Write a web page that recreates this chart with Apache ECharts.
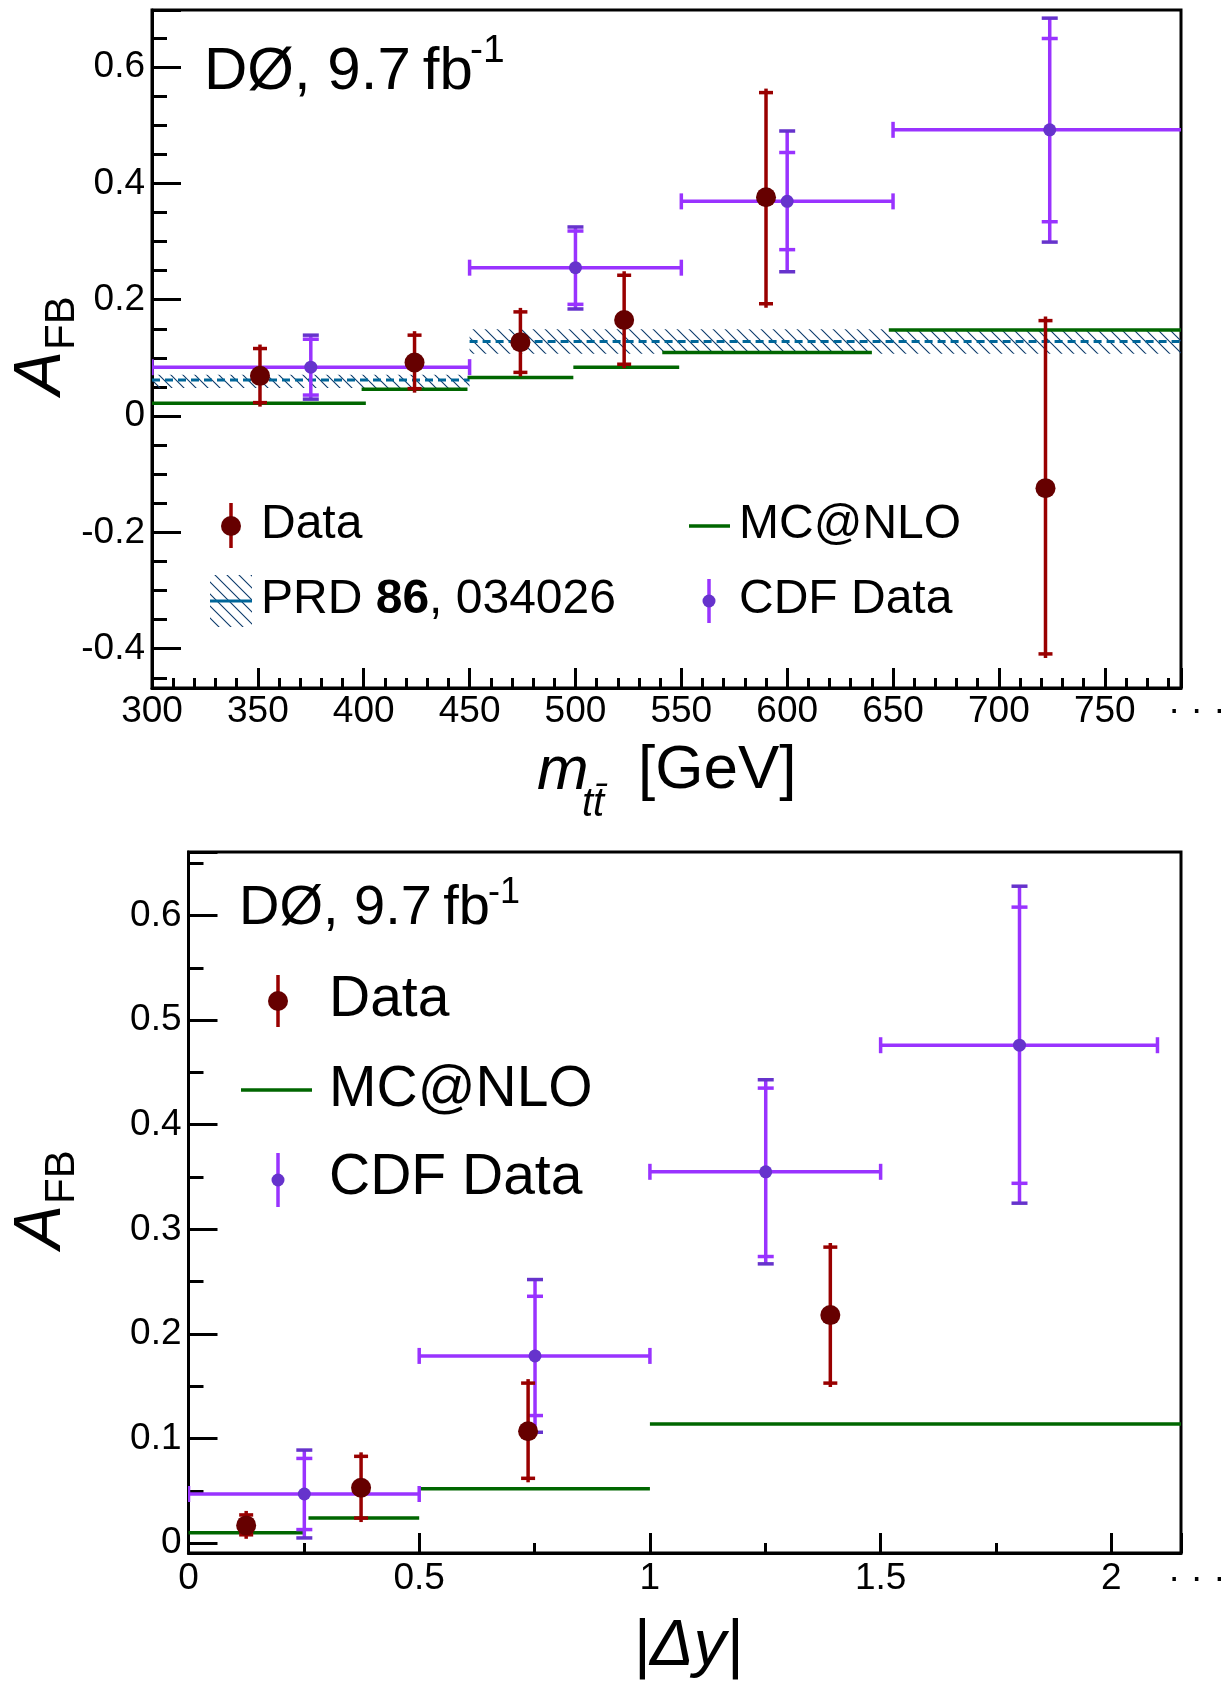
<!DOCTYPE html>
<html>
<head>
<meta charset="utf-8">
<script src="https://cdn.jsdelivr.net/npm/echarts@6/dist/echarts.min.js"></script>
<style>
html, body { margin: 0; padding: 0; background: #fff; }
#chart { width: 1221px; height: 1689px; }
</style>
</head>
<body>
<div id="chart"></div>
<script>
// ---- top panel: A_FB vs m_tt ----
const mttD0X = [351, 424, 474, 523, 590, 722];
const mttD0Y = [0.069, 0.092, 0.127, 0.165, 0.376, -0.124];
const mttD0Lo = [0.023, 0.047, 0.075, 0.089, 0.193, -0.409];
const mttD0Hi = [0.116, 0.139, 0.179, 0.242, 0.556, 0.164];

const mttCdfX = [375, 500, 600, 724];
const mttCdfBinLo = [300, 450, 550, 650];
const mttCdfBinHi = [450, 550, 650, 800];
const mttCdfY = [0.084, 0.255, 0.369, 0.492];
const mttCdfStatLo = [0.036, 0.192, 0.286, 0.334];
const mttCdfStatHi = [0.132, 0.318, 0.453, 0.649];
const mttCdfTotLo = [0.029, 0.184, 0.248, 0.299];
const mttCdfTotHi = [0.139, 0.325, 0.490, 0.684];

const mttMcLo = [300, 399, 449, 499, 541, 648];
const mttMcHi = [401, 449, 499, 549, 640, 786];
const mttMcY = [0.022, 0.046, 0.066, 0.084, 0.109, 0.148];

const mttPrdLo = [300, 450];
const mttPrdHi = [450, 786];
const mttPrdY = [0.062, 0.128];
const mttPrdBandLo = [0.048, 0.107];
const mttPrdBandHi = [0.071, 0.149];

// ---- bottom panel: A_FB vs |dy| ----
const dyD0X = [0.125, 0.374, 0.736, 1.391];
const dyD0Y = [0.017, 0.053, 0.107, 0.218];
const dyD0Lo = [0.008, 0.024, 0.062, 0.153];
const dyD0Hi = [0.027, 0.083, 0.153, 0.283];

const dyCdfX = [0.251, 0.751, 1.251, 1.801];
const dyCdfBinLo = [0, 0.5, 1.0, 1.5];
const dyCdfBinHi = [0.5, 1.0, 1.5, 2.1];
const dyCdfY = [0.047, 0.179, 0.355, 0.476];
const dyCdfStatLo = [0.013, 0.122, 0.274, 0.344];
const dyCdfStatHi = [0.081, 0.236, 0.435, 0.608];
const dyCdfTotLo = [0.005, 0.106, 0.267, 0.325];
const dyCdfTotHi = [0.089, 0.252, 0.443, 0.628];

const dyMcLo = [0, 0.26, 0.5, 1.0];
const dyMcHi = [0.25, 0.5, 1.0, 2.151];
const dyMcY = [0.010, 0.024, 0.052, 0.114];

const FONT = '"Liberation Sans", Arial, sans-serif';
const D0_MARK = '#660000', D0_BAR = '#990000';
const CDF_BAR = '#9933ff', CDF_MARK = '#6633cc';
const MC_COL = '#006600', PRD_COL = '#006699';

// hatch pattern for the PRD band
const hatch = document.createElement('canvas');
hatch.width = 12; hatch.height = 12;
const hc = hatch.getContext('2d');
hc.strokeStyle = '#0b3a6a';
hc.lineWidth = 1.1;
hc.beginPath();
hc.moveTo(-1, -1); hc.lineTo(13, 13);
hc.moveTo(-1, 11); hc.lineTo(1, 13);
hc.moveTo(11, -1); hc.lineTo(13, 1);
hc.stroke();
const hatchFill = { image: hatch, repeat: 'repeat' };

function zip() {
  const cols = Array.prototype.slice.call(arguments);
  return cols[0].map((_, i) => cols.map(c => c[i]));
}

function hline(x1, x2, y, color, w) {
  return { type: 'line', shape: { x1: x1, y1: y, x2: x2, y2: y }, style: { stroke: color, lineWidth: w } };
}
function vline(x, y1, y2, color, w) {
  return { type: 'line', shape: { x1: x, y1: y1, x2: x, y2: y2 }, style: { stroke: color, lineWidth: w } };
}

function renderD0(params, api) {
  const x = api.value(0);
  const p = api.coord([x, api.value(1)]);
  const yLo = api.coord([x, api.value(2)])[1];
  const yHi = api.coord([x, api.value(3)])[1];
  return { type: 'group', children: [
    vline(p[0], yHi - 4, yLo + 4, D0_BAR, 3.5),
    hline(p[0] - 7, p[0] + 7, yHi, D0_BAR, 3.5),
    hline(p[0] - 7, p[0] + 7, yLo, D0_BAR, 3.5),
    { type: 'circle', shape: { cx: p[0], cy: p[1], r: 10 }, style: { fill: D0_MARK } }
  ] };
}

function renderCdf(params, api) {
  const x = api.value(0), y = api.value(1);
  const p = api.coord([x, y]);
  const xl = api.coord([api.value(2), y])[0];
  const xr = api.coord([api.value(3), y])[0];
  const ys = i => api.coord([x, api.value(i)])[1];
  const sLo = ys(4), sHi = ys(5), tLo = ys(6), tHi = ys(7);
  const w = 3.5;
  return { type: 'group', children: [
    hline(xl, xr, p[1], CDF_BAR, w),
    vline(xl, p[1] - 8, p[1] + 8, CDF_BAR, w),
    vline(xr, p[1] - 8, p[1] + 8, CDF_BAR, w),
    vline(p[0], tHi, tLo, CDF_BAR, w),
    hline(p[0] - 8, p[0] + 8, sHi, CDF_BAR, w),
    hline(p[0] - 8, p[0] + 8, sLo, CDF_BAR, w),
    hline(p[0] - 8, p[0] + 8, tHi, CDF_MARK, w),
    hline(p[0] - 8, p[0] + 8, tLo, CDF_MARK, w),
    { type: 'circle', shape: { cx: p[0], cy: p[1], r: 6.5 }, style: { fill: CDF_MARK } }
  ] };
}

function renderMc(params, api) {
  const y = api.value(2);
  const a = api.coord([api.value(0), y]);
  const b = api.coord([api.value(1), y]);
  return hline(a[0], b[0], a[1], MC_COL, 3.5);
}

function renderPrd(params, api) {
  const a = api.coord([api.value(0), api.value(4)]);
  const b = api.coord([api.value(1), api.value(3)]);
  const c = api.coord([api.value(0), api.value(2)]);
  return { type: 'group', children: [
    { type: 'rect', shape: { x: a[0], y: a[1], width: b[0] - a[0], height: b[1] - a[1] }, style: { fill: hatchFill } },
    { type: 'line', shape: { x1: a[0], y1: c[1], x2: b[0], y2: c[1] }, style: { stroke: PRD_COL, lineWidth: 3, lineDash: [8, 5] } }
  ] };
}

function xAxisOf(grid, min, max, split, minor, margin) {
  return {
    type: 'value', gridIndex: grid, min: min, max: max, splitNumber: split,
    axisLine: { onZero: false, lineStyle: { color: '#000', width: 3 } },
    axisTick: { inside: true, length: 20, lineStyle: { color: '#000', width: 3 } },
    minorTick: { show: true, splitNumber: minor, length: 10, lineStyle: { color: '#000', width: 3 } },
    splitLine: { show: false }, minorSplitLine: { show: false },
    axisLabel: { fontSize: 37, color: '#000', fontFamily: FONT, margin: margin, showMaxLabel: false }
  };
}
function yAxisOf(grid, min, max, split, minor) {
  return {
    type: 'value', gridIndex: grid, min: min, max: max, splitNumber: split,
    axisLine: { onZero: false, lineStyle: { color: '#000', width: 3 } },
    axisTick: { inside: true, length: 29, lineStyle: { color: '#000', width: 3 } },
    minorTick: { show: true, splitNumber: minor, length: 15, lineStyle: { color: '#000', width: 3 } },
    splitLine: { show: false }, minorSplitLine: { show: false },
    axisLabel: { fontSize: 37, color: '#000', fontFamily: FONT, margin: 7, showMinLabel: false, showMaxLabel: false }
  };
}

function txt(x, base, size, text, style, extra) {
  return Object.assign({
    type: 'text', x: x, y: base - 0.35 * size, z: 100,
    style: Object.assign({
      text: text, fill: '#000', font: (style || '') + ' ' + size + 'px ' + FONT,
      textAlign: 'left', align: 'left', textVerticalAlign: 'middle', verticalAlign: 'middle'
    })
  }, extra || {});
}
function ytitle(baseX, startY, size, text, style) {
  return {
    type: 'text', x: baseX - 0.35 * size, y: startY, rotation: Math.PI / 2, z: 100,
    style: {
      text: text, fill: '#000', font: (style || '') + ' ' + size + 'px ' + FONT,
      textAlign: 'left', align: 'left', textVerticalAlign: 'middle', verticalAlign: 'middle'
    }
  };
}
function marker(x, y, r, fill) {
  return { type: 'circle', shape: { cx: x, cy: y, r: r }, style: { fill: fill }, z: 100 };
}
function seg(x1, y1, x2, y2, color, w) {
  return { type: 'line', shape: { x1: x1, y1: y1, x2: x2, y2: y2 }, style: { stroke: color, lineWidth: w }, z: 100 };
}

const graphics = [
  // top panel labels
  txt(204, 93, 60, 'DØ, 9.7\u2009fb'),
  txt(470, 65, 39, '-1'),
  seg(231, 503, 231, 548, D0_BAR, 3.5), marker(231, 526, 10, D0_MARK),
  txt(261, 542, 48, 'Data'),
  { type: 'rect', shape: { x: 210, y: 575, width: 42, height: 52 }, style: { fill: hatchFill }, z: 100 },
  seg(210, 601, 252, 601, PRD_COL, 3),
  {
    type: 'text', x: 261, y: 617 - 0.35 * 48, z: 100,
    style: {
      text: 'PRD {b|86}, 034026', fill: '#000', font: '48px ' + FONT,
      textAlign: 'left', align: 'left', textVerticalAlign: 'middle', verticalAlign: 'middle',
      rich: { b: { fontWeight: 'bold', fontSize: 48, fontFamily: FONT } }
    }
  },
  seg(689, 526, 730, 526, MC_COL, 3.5),
  txt(739, 542, 48, 'MC@NLO'),
  seg(709, 579, 709, 623, CDF_BAR, 3.5), marker(709, 601, 6.5, CDF_MARK),
  txt(739, 617, 48, 'CDF Data'),
  ytitle(65, 395, 66, 'A', 'italic'),
  ytitle(77, 350, 42, 'FB'),
  txt(537, 793, 62, 'm', 'italic'),
  txt(582, 819, 40, 't\u0074\u0304', 'italic'),
  txt(638, 793, 62, '[GeV]'),
  txt(1168, 724, 37, '· · ·'),
  // bottom panel labels
  txt(239, 928, 56, 'DØ, 9.7\u2009fb'),
  txt(488, 906, 36, '-1'),
  seg(278, 975, 278, 1027, D0_BAR, 3.5), marker(278, 1001, 10, D0_MARK),
  txt(329, 1020, 57, 'Data'),
  seg(241, 1090, 312, 1090, MC_COL, 3.5),
  txt(329, 1110, 57, 'MC@NLO'),
  seg(278, 1153, 278, 1207, CDF_BAR, 3.5), marker(278, 1180, 6.5, CDF_MARK),
  txt(329, 1198, 57, 'CDF Data'),
  ytitle(65, 1249, 66, 'A', 'italic'),
  ytitle(77, 1204, 42, 'FB'),
  txt(633, 1670, 65, '|Δy|', 'italic'),
  txt(1168, 1592, 37, '· · ·')
];

const chart = echarts.init(document.getElementById('chart'), null, { renderer: 'canvas' });
chart.setOption({
  animation: false,
  backgroundColor: '#fff',
  textStyle: { fontFamily: FONT },
  grid: [
    { left: 152, top: 10, width: 1029, height: 678, show: true, borderColor: '#000', borderWidth: 3 },
    { left: 188.5, top: 852, width: 992.5, height: 701, show: true, borderColor: '#000', borderWidth: 3 }
  ],
  xAxis: [
    xAxisOf(0, 300, 786, 10, 5, 5),
    xAxisOf(1, 0, 2.151, 4, 2, 7)
  ],
  yAxis: [
    yAxisOf(0, -0.4676, 0.698, 5, 4),
    yAxisOf(1, -0.0094, 0.6607, 6, 2)
  ],
  series: [
    { type: 'custom', name: 'PRD', xAxisIndex: 0, yAxisIndex: 0, silent: true, clip: true,
      renderItem: renderPrd, data: zip(mttPrdLo, mttPrdHi, mttPrdY, mttPrdBandLo, mttPrdBandHi) },
    { type: 'custom', name: 'MC@NLO', xAxisIndex: 0, yAxisIndex: 0, silent: true, clip: true,
      renderItem: renderMc, data: zip(mttMcLo, mttMcHi, mttMcY) },
    { type: 'custom', name: 'CDF Data', xAxisIndex: 0, yAxisIndex: 0, silent: true, clip: true,
      renderItem: renderCdf, data: zip(mttCdfX, mttCdfY, mttCdfBinLo, mttCdfBinHi, mttCdfStatLo, mttCdfStatHi, mttCdfTotLo, mttCdfTotHi) },
    { type: 'custom', name: 'Data', xAxisIndex: 0, yAxisIndex: 0, silent: true,
      renderItem: renderD0, data: zip(mttD0X, mttD0Y, mttD0Lo, mttD0Hi) },

    { type: 'custom', name: 'MC@NLO dy', xAxisIndex: 1, yAxisIndex: 1, silent: true, clip: true,
      renderItem: renderMc, data: zip(dyMcLo, dyMcHi, dyMcY) },
    { type: 'custom', name: 'CDF Data dy', xAxisIndex: 1, yAxisIndex: 1, silent: true, clip: true,
      renderItem: renderCdf, data: zip(dyCdfX, dyCdfY, dyCdfBinLo, dyCdfBinHi, dyCdfStatLo, dyCdfStatHi, dyCdfTotLo, dyCdfTotHi) },
    { type: 'custom', name: 'Data dy', xAxisIndex: 1, yAxisIndex: 1, silent: true,
      renderItem: renderD0, data: zip(dyD0X, dyD0Y, dyD0Lo, dyD0Hi) }
  ],
  graphic: graphics
});
</script>
</body>
</html>
